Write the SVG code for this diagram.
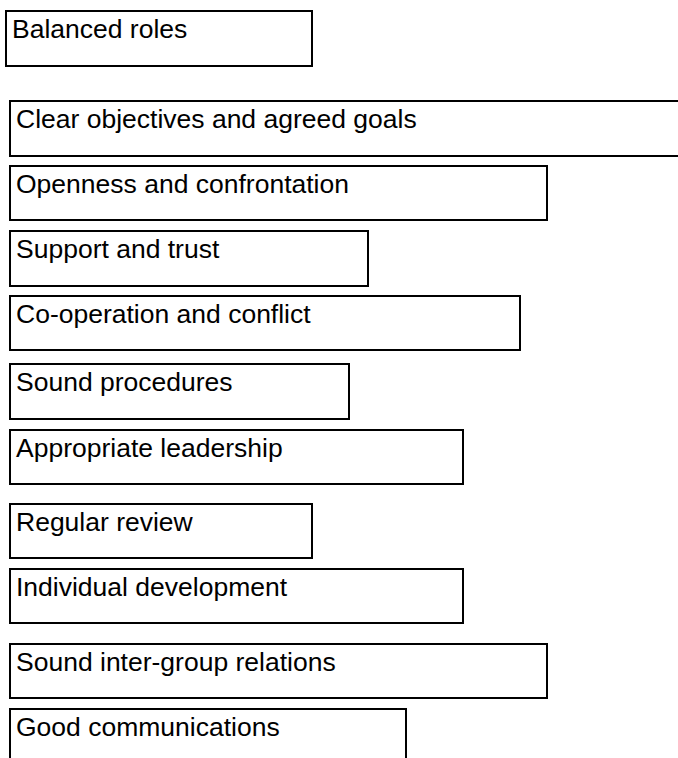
<svg xmlns="http://www.w3.org/2000/svg" width="678" height="758" viewBox="0 0 678 758">
  <style>
    .box { fill: #ffffff; stroke: #000000; stroke-width: 2; }
    .lbl { font-family: "Liberation Sans", Arial, sans-serif; font-size: 26.5px; fill: #000000; }
  </style>
  <rect x="0" y="0" width="678" height="758" fill="#ffffff"/>
  <g id="balanced-roles">
    <rect class="box" x="6" y="11" width="306" height="55"/>
    <text class="lbl" x="12" y="38">Balanced roles</text>
  </g>
  <g id="clear-objectives">
    <rect class="box" x="10" y="101" width="680" height="55"/>
    <text class="lbl" x="16" y="128">Clear objectives and agreed goals</text>
  </g>
  <g id="openness">
    <rect class="box" x="10" y="166" width="537" height="54"/>
    <text class="lbl" x="16" y="193">Openness and confrontation</text>
  </g>
  <g id="support-trust">
    <rect class="box" x="10" y="231" width="358" height="55"/>
    <text class="lbl" x="16" y="258">Support and trust</text>
  </g>
  <g id="co-operation">
    <rect class="box" x="10" y="296" width="510" height="54"/>
    <text class="lbl" x="16" y="323">Co-operation and conflict</text>
  </g>
  <g id="sound-procedures">
    <rect class="box" x="10" y="364" width="339" height="55"/>
    <text class="lbl" x="16" y="391">Sound procedures</text>
  </g>
  <g id="appropriate-leadership">
    <rect class="box" x="10" y="430" width="453" height="54"/>
    <text class="lbl" x="16" y="457">Appropriate leadership</text>
  </g>
  <g id="regular-review">
    <rect class="box" x="10" y="504" width="302" height="54"/>
    <text class="lbl" x="16" y="531">Regular review</text>
  </g>
  <g id="individual-development">
    <rect class="box" x="10" y="569" width="453" height="54"/>
    <text class="lbl" x="16" y="596">Individual development</text>
  </g>
  <g id="inter-group-relations">
    <rect class="box" x="10" y="644" width="537" height="54"/>
    <text class="lbl" x="16" y="671">Sound inter-group relations</text>
  </g>
  <g id="good-communications">
    <rect class="box" x="10" y="709" width="396" height="60"/>
    <text class="lbl" x="16" y="736">Good communications</text>
  </g>
  <g id="connectors"/>
</svg>
